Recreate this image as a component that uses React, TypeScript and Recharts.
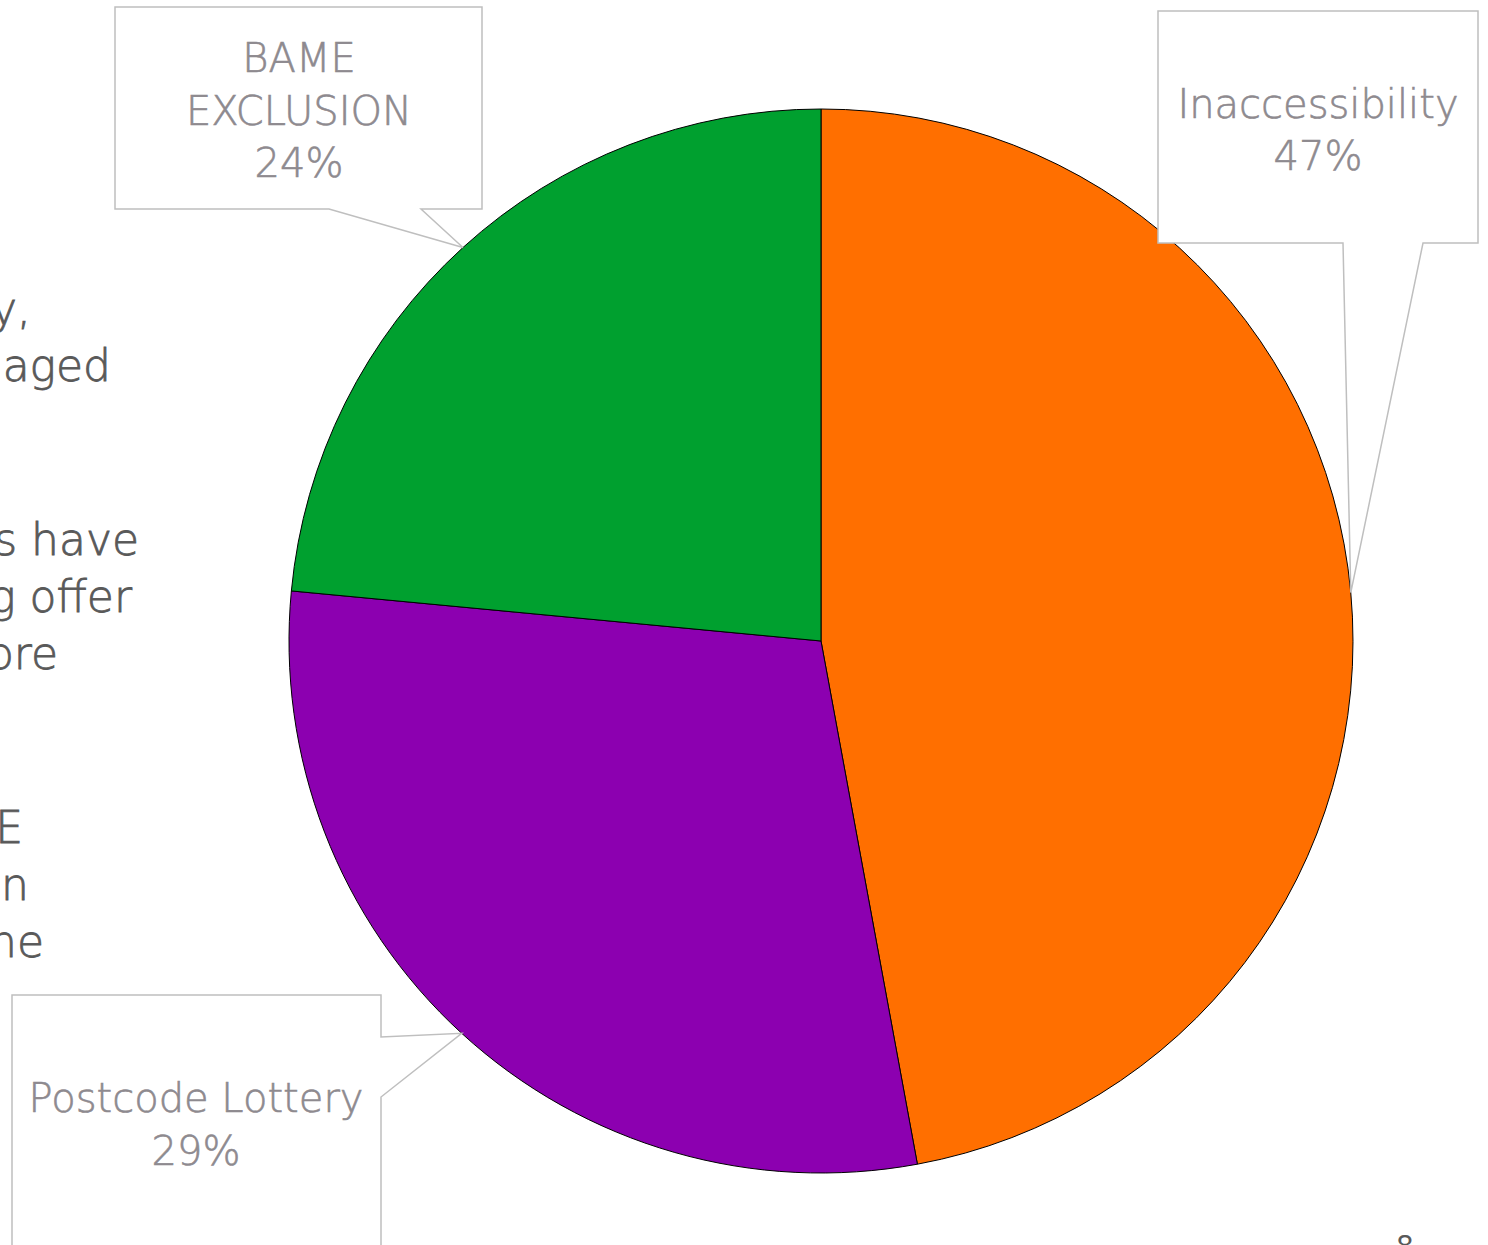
import React from 'react';
import { PieChart, Pie, Cell } from 'recharts';

// ---- data ----
const categories = ['Inaccessibility', 'Postcode Lottery', 'BAME EXCLUSION'];
const values = [47.1, 29.4, 23.5];
const labelLines = [['Inaccessibility'], ['Postcode Lottery'], ['BAME', 'EXCLUSION']];
const bodyFragments = ['y,', 'aged', 's have', 'g offer', 'ore', 'E', 'n', 'ne'];
const pageNumber = '8';

// ---- style / layout ----
const W = 1488;
const H = 1245;
const COLORS = ['#FF6F00', '#8C00B0', '#00A02F'];
const LABEL_COLOR = '#8E8A8F';
const BODY_COLOR = '#595959';
const FONT = '"DejaVu Sans", "Noto Sans", sans-serif';

type Box = {
  x: number; y: number; w: number; h: number;
  side: 'bottom' | 'right';
  a: number; b: number; // notch base (x for bottom, y for right)
  tx: number; ty: number; lh: number; // text centre x, first baseline, line height
};
const BOXES: Box[] = [
  { x: 1158, y: 11, w: 320, h: 232, side: 'bottom', a: 1343, b: 1423, tx: 1318, ty: 118, lh: 52 },
  { x: 12, y: 995, w: 369, h: 320, side: 'right', a: 1037, b: 1097, tx: 196, ty: 1112, lh: 53 },
  { x: 115, y: 7, w: 367, h: 202, side: 'bottom', a: 329, b: 421, tx: 299, ty: 72, lh: 52.5 },
];
const BODY_POS = [
  { right: 31, y: 324 },
  { right: 111, y: 381 },
  { right: 139, y: 555 },
  { right: 132, y: 612 },
  { right: 58, y: 669 },
  { right: 23, y: 843 },
  { right: 29, y: 900 },
  { right: 44, y: 957 },
];

const data = categories.map((name, i) => ({ name, value: values[i] }));

const RAD = Math.PI / 180;

const renderLabel = (props: any) => {
  const { cx, cy, midAngle, outerRadius, index, percent } = props;
  const b = BOXES[index];
  const tipX = cx + outerRadius * Math.cos(-midAngle * RAD);
  const tipY = cy + outerRadius * Math.sin(-midAngle * RAD);
  let d = '';
  if (b.side === 'bottom') {
    d = `M${b.x},${b.y} H${b.x + b.w} V${b.y + b.h} H${b.b} L${tipX},${tipY} L${b.a},${b.y + b.h} H${b.x} Z`;
  } else {
    d = `M${b.x},${b.y} H${b.x + b.w} V${b.a} L${tipX},${tipY} L${b.x + b.w},${b.b} V${b.y + b.h} H${b.x} Z`;
  }
  const lines = [...labelLines[index], `${Math.round(percent * 100)}%`];
  return (
    <g key={`lbl-${index}`}>
      <path d={d} fill="#FFFFFF" stroke="#BFBFBF" strokeWidth={1.5} />
      {lines.map((t, j) => (
        <text
          key={j}
          x={b.tx}
          y={b.ty + j * b.lh}
          textAnchor="middle"
          fill={LABEL_COLOR}
          stroke={LABEL_COLOR}
          strokeWidth={0.6}
          fontFamily={FONT}
          fontWeight={300}
          fontSize={40}
        >
          {t}
        </text>
      ))}
    </g>
  );
};

export default function App() {
  return (
    <div style={{ position: 'absolute', left: 0, top: 0, width: W, height: H, overflow: 'hidden', background: '#FFFFFF' }}>
      <svg width={W} height={H} style={{ position: 'absolute', left: 0, top: 0 }}>
        {bodyFragments.map((t, i) => (
          <text
            key={i}
            x={BODY_POS[i].right}
            y={BODY_POS[i].y}
            textAnchor="end"
            fill={BODY_COLOR}
            stroke={BODY_COLOR}
            strokeWidth={0.8}
            fontFamily={FONT}
            fontWeight={300}
            fontSize={44}
          >
            {t}
          </text>
        ))}
        <text x={1405} y={1256} textAnchor="middle" fill={BODY_COLOR} fontFamily={FONT} fontSize={28}>
          {pageNumber}
        </text>
      </svg>
      <div style={{ position: 'absolute', left: 0, top: 0 }}>
        <PieChart width={W} height={H} margin={{ top: 0, right: 0, bottom: 0, left: 0 }}>
          <Pie
            data={data}
            dataKey="value"
            nameKey="name"
            cx={821}
            cy={641}
            outerRadius={532}
            startAngle={90}
            endAngle={-270}
            stroke="#000000"
            strokeWidth={1}
            isAnimationActive={false}
            label={renderLabel}
            labelLine={false}
          >
            {data.map((d, i) => (
              <Cell key={d.name} fill={COLORS[i]} />
            ))}
          </Pie>
        </PieChart>
      </div>
    </div>
  );
}
